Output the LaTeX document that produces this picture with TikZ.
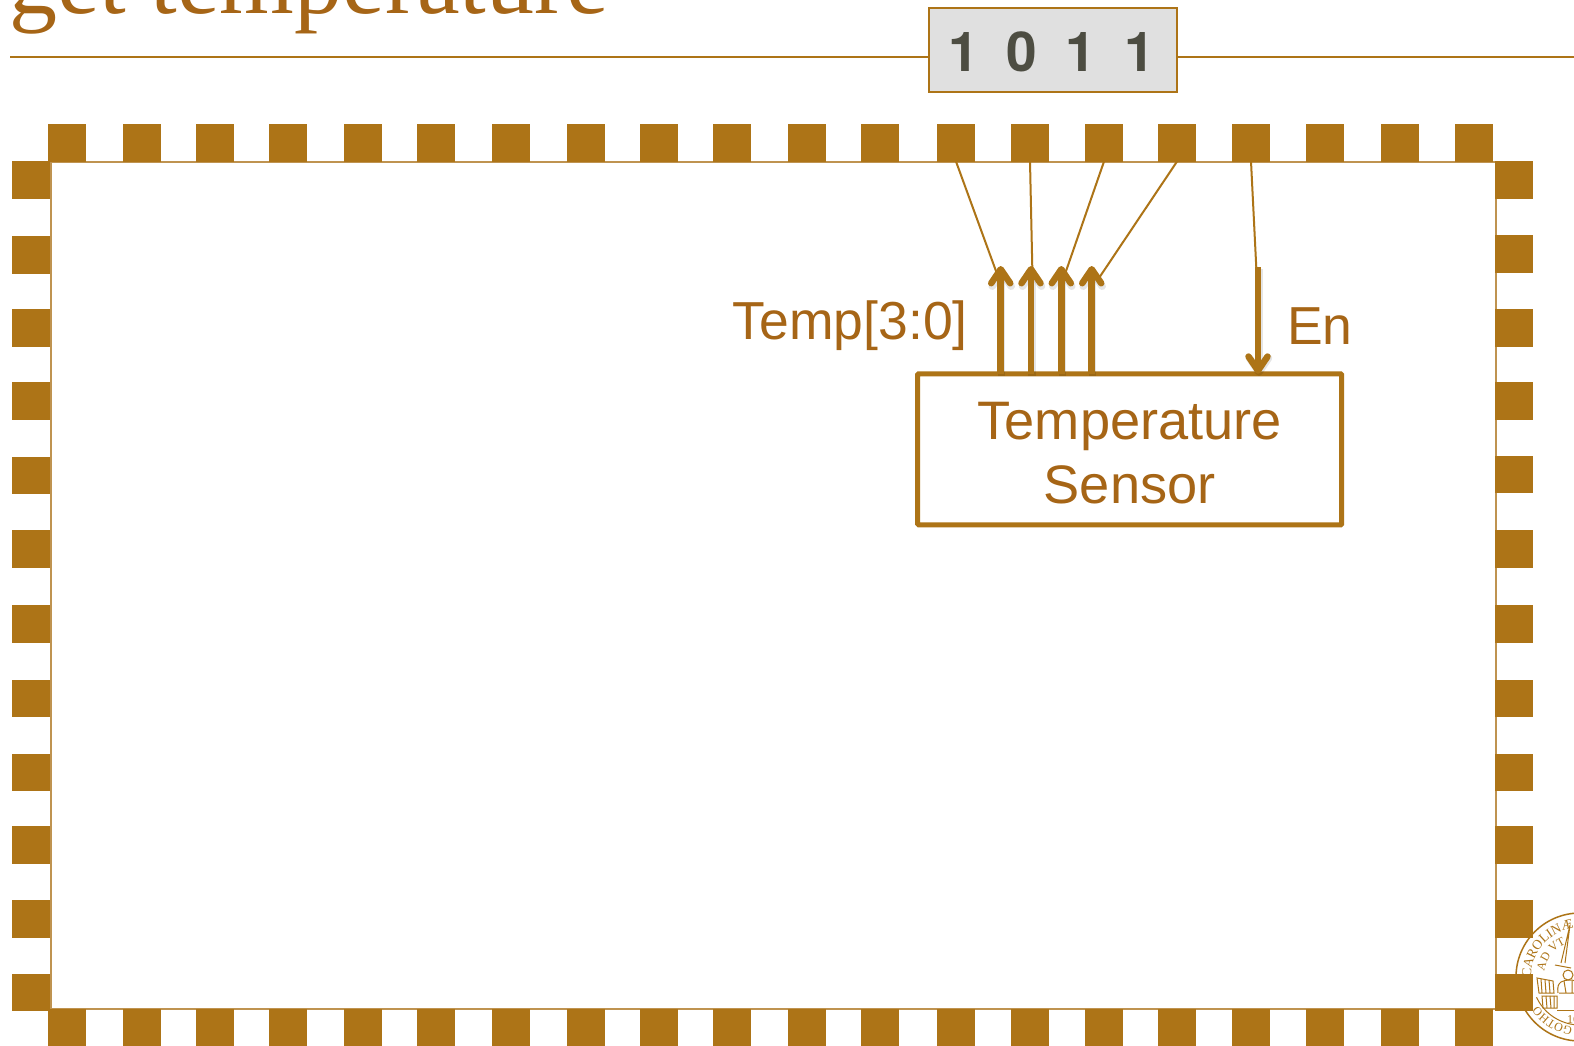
\documentclass[tikz,border=0pt]{standalone}
\usepackage{fontspec}
\usetikzlibrary{arrows.meta,decorations.text}
\setmainfont{Liberation Sans}
\newfontfamily\titlefont{Liberation Serif}
\newfontfamily\digitfont{TeX Gyre Heros}
\definecolor{gold}{HTML}{AD7417}
\definecolor{goldtext}{HTML}{A66516}
\definecolor{numgray}{HTML}{4D4D42}
\definecolor{numfill}{HTML}{E0E0E0}
\definecolor{edgegold}{HTML}{BF9350}
\tikzset{
  tooth/.style={fill=gold,draw=none,inner sep=0pt,outer sep=0pt,minimum width=38pt,minimum height=37.5pt,anchor=north west},
  rulegold/.style={draw=gold,line width=2pt},
  wire/.style={draw=gold,line width=2pt},
  sig/.style={draw=gold,line width=6.5pt,-{Straight Barb[length=14pt,width=19pt,line width=6.5pt,round]}},
  sigshadow/.style={draw=black,opacity=.10,line width=7.5pt,-{Straight Barb[length=14pt,width=19pt,line width=7.5pt,round]}},
  label/.style={text=goldtext,font=\fontsize{53.5}{64}\selectfont,inner sep=0pt,anchor=base west},
  sealline/.style={draw=gold,line width=1pt},
}
\begin{document}
\begin{tikzpicture}[x=1pt,y=-1pt]
\useasboundingbox (0,0) rectangle (1574,1046);
\clip (0,0) rectangle (1574,1046);
\fill[white] (0,0) rectangle (1574,1046);
% title
\node[text=goldtext,font=\titlefont\fontsize{96}{96}\selectfont,inner sep=0pt,anchor=base west] (title) at (9,13.5) {get temperature};
% header rule and number box
\coordinate (ruleL) at (10,57);
\coordinate (ruleR) at (1574,57);
\node[draw=gold,line width=2pt,fill=numfill,minimum width=248pt,minimum height=84pt,inner sep=0pt,outer sep=0pt] (num) at (1052.5,50) {};
\draw[rulegold] (ruleL) -- (ruleL -| num.west);
\draw[rulegold] (ruleR -| num.east) -- (ruleR);
\node[text=numgray,font=\digitfont\bfseries\fontsize{55}{55}\selectfont,inner sep=0pt,anchor=base west] (bits) at (948,71.5) {1\hspace{28pt}0\hspace{28pt}1\hspace{28.5pt}1};
% seal
\begin{scope}[shift={(1580,977)},x=1pt,y=1pt]
  \draw[gold,line width=1.5pt] (0,0) circle[radius=64];
  \draw[sealline] (205:48) arc[start angle=205,end angle=290,radius=48];
  \path[decorate,decoration={text along path,text align=center,text={|\titlefont\fontsize{13.5}{13.5}\selectfont\color{gold}|CAROLINÆ}}] (199:49) arc[start angle=199,end angle=79,radius=49];
  \path[decorate,decoration={text along path,text align=center,text={|\titlefont\fontsize{12}{12}\selectfont\color{gold}|AD VT}}] (197:36) arc[start angle=197,end angle=87,radius=36];
  \path[decorate,decoration={text along path,text align=center,text={|\titlefont\fontsize{12}{12}\selectfont\color{gold}|GOTHO}}] (290:51) arc[start angle=290,end angle=186,radius=51];
  \node[text=gold,font=\titlefont\fontsize{12}{12}\selectfont,inner sep=0pt,anchor=base west] (sealyear) at (-13,-46) {16};
  % sword
  \draw[sealline] (-19,14) -- (-10,52) -- (-15,14);
  \draw[sealline] (-25,12) -- (-9,9);
  % figure
  \draw[sealline] (-12,2) circle[radius=5];
  \draw[sealline] (-22,-16) .. controls (-24,-4) and (-16,-3) .. (-10,-3) .. controls (-2,-3) and (0,-8) .. (2,-16);
  \draw[sealline] (-21,-16) -- (2,-16) (-16,-4) -- (-14,-16) (-8,-4) -- (-8,-16);
  % tablets
  \draw[sealline] (-43,-1) -- (-27,-4) -- (-26,-16) -- (-41,-16) -- cycle;
  \draw[sealline] (-39,-2) -- (-38,-16) (-35,-3) -- (-34,-16) (-31,-3) -- (-30,-16);
  \draw[sealline] (-38,-19) -- (-23,-19) -- (-23,-31) -- (-37,-31) -- cycle;
  \draw[sealline] (-34,-19) -- (-33,-31) (-30,-19) -- (-29,-31) (-26,-19) -- (-26,-31);
  \draw[sealline] (-23,-33) -- (0,-33);
\end{scope}
% frame
\draw[edgegold,line width=2pt] (51,162) rectangle (1496,1009);
% teeth
\foreach \x [count=\i] in {48,123,195.5,268.7,344,417,491.5,567,640,713.2,787.7,861,937,1011,1085,1158,1232,1306,1381,1455} {
  \node[tooth] (t\i) at (\x,124) {};
  \node[tooth] (b\i) at (\x,1008.5) {};
}
\foreach \y [count=\i] in {161.3,236,309.2,382,456.7,530,605.3,679.6,753.9,826.2,900.4,973.7} {
  \node[tooth] (l\i) at (12,\y) {};
}
\foreach \y [count=\i] in {161.3,235,309.2,382,455.7,530,605.3,679.6,753.9,826.2,900.4,973.7} {
  \node[tooth] (r\i) at (1495,\y) {};
}
% sensor
\node[draw=gold,line width=5pt,rounded corners=1pt,minimum width=424pt,minimum height=151pt,inner sep=0pt,outer sep=0pt] (sensor) at (1129.7,449.3) {};
\node[align=center,text=goldtext,font=\fontsize{54.2}{64}\selectfont,inner sep=0pt] (sensortext) at (1129.7,453.5) {Temperature\\Sensor};
% arrow tips
\coordinate (a1) at (1000.7,266);
\coordinate (a2) at (1031,266);
\coordinate (a3) at (1061.3,266);
\coordinate (a4) at (1091.7,266);
\coordinate (en) at (1258,267);
% thin wires
\coordinate (e1) at (996.7,273);
\coordinate (e2) at (1032.3,268);
\coordinate (e3) at (1065.7,272);
\coordinate (e4) at (1099,278);
\coordinate (e5) at (1256.3,268);
\draw[wire] (t13.south) -- (e1);
\draw[wire] (t14.south) -- (e2);
\draw[wire] (t15.south) -- (e3);
\draw[wire] (t16.south) -- (e4);
\draw[wire] (t17.south) -- (e5);
% signal arrows
\foreach \a in {a1,a2,a3,a4} {
  \draw[sigshadow,transform canvas={shift={(1pt,-2.5pt)}}] (\a |- sensor.north) -- (\a);
  \draw[sig] (\a |- sensor.north) -- (\a);
}
\draw[sigshadow,transform canvas={shift={(1pt,-2pt)}}] (en) -- (en |- sensor.north);
\draw[sig] (en) -- (en |- sensor.north);
% labels
\node[label] (temp) at (732.5,339) {Temp[3:0]};
\node[label] (enl) at (1287,344.5) {En};
\end{tikzpicture}
\end{document}
